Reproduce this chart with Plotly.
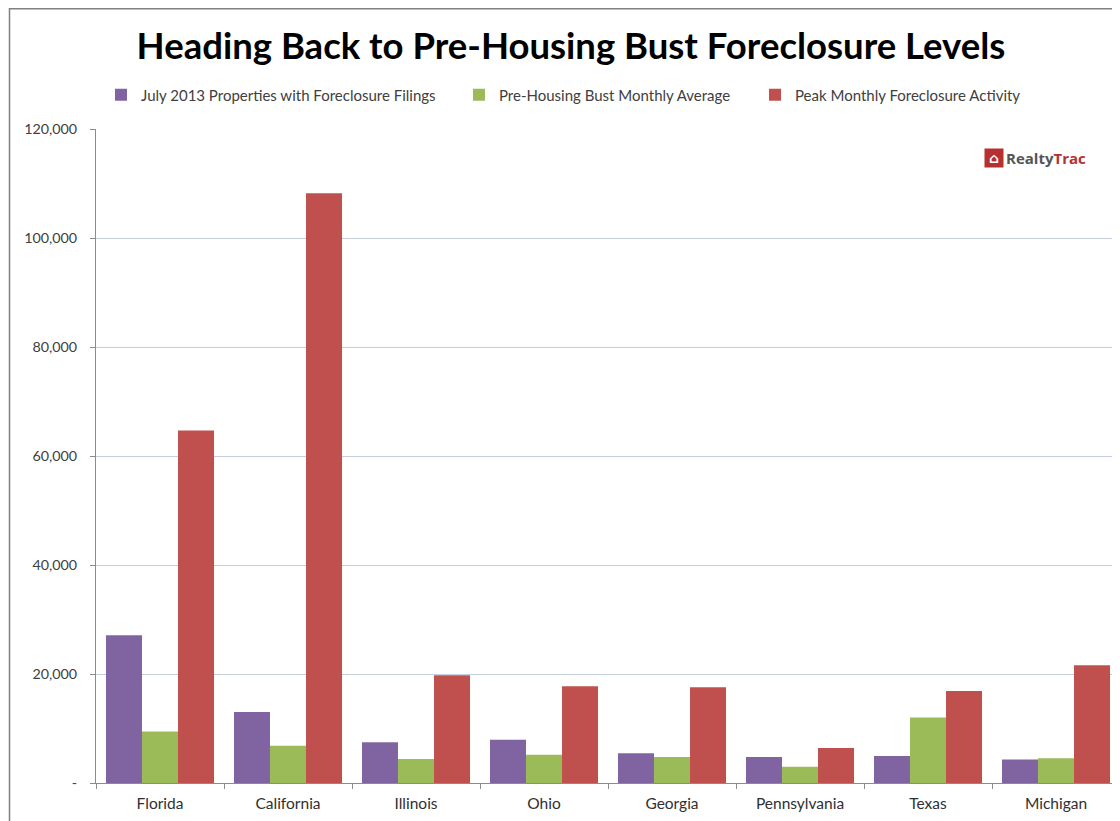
import plotly.graph_objects as go

states = ["Florida", "California", "Illinois", "Ohio", "Georgia", "Pennsylvania", "Texas", "Michigan"]
july_2013 = [27100, 13050, 7500, 7930, 5450, 4790, 4970, 4300]
pre_bust_avg = [9450, 6830, 4390, 5180, 4790, 2970, 12000, 4550]
peak_activity = [64700, 108200, 19760, 17760, 17580, 6420, 16900, 21600]

series_names = ["July 2013 Properties with Foreclosure Filings",
                "Pre-Housing Bust Monthly Average",
                "Peak Monthly Foreclosure Activity"]
series_colors = ["#8064A2", "#9BBB59", "#C0504D"]

y_tickvals = [0, 20000, 40000, 60000, 80000, 100000, 120000]
y_ticktext = ["-", "20,000", "40,000", "60,000", "80,000", "100,000", "120,000"]

# page has an 8px body margin; layout is expressed in screen pixels then converted
OFF = 8
W, H = 1120, 821
ML, MT = 96 - OFF, 129 - OFF
MR = W - (1120 - OFF)
MB = H - (783 - OFF)
PW, PH = W - ML - MR, H - MT - MB


def sx(px):
    return (px - OFF - ML) / PW


def sy(py):
    return 1 - (py - OFF - MT) / PH


font_family = "Lato, 'Open Sans', sans-serif"
legend_ids = ["legend2", "legend3", "legend4"]
legend_text_x = [141, 499, 795]

fig = go.Figure()
for name, vals, col, lid in zip(series_names, [july_2013, pre_bust_avg, peak_activity],
                                series_colors, legend_ids):
    fig.add_trace(go.Bar(x=states, y=vals, name=name, legend=lid,
                         marker=dict(color=col, line=dict(width=0))))

legend_common = dict(orientation="h", xanchor="left", yanchor="middle", y=sy(95),
                     font=dict(size=15, color="#404040", family=font_family),
                     bgcolor="rgba(0,0,0,0)", itemwidth=30)

fig.update_layout(
    width=W, height=H,
    margin=dict(l=ML, r=MR, t=MT, b=MB, pad=0),
    paper_bgcolor="white", plot_bgcolor="white",
    barmode="group", bargap=0.156, bargroupgap=0,
    font=dict(family=font_family, color="#404040", size=13),
    title=dict(text="<b>Heading Back to Pre-Housing Bust Foreclosure Levels</b>",
               x=(571 - OFF) / W, xanchor="center", y=1 - (46 - OFF) / H, yanchor="middle",
               font=dict(family=font_family, size=36.5, color="#000000")),
    legend2=dict(x=sx(legend_text_x[0] - 40), **legend_common),
    legend3=dict(x=sx(legend_text_x[1] - 40), **legend_common),
    legend4=dict(x=sx(legend_text_x[2] - 40), **legend_common),
    xaxis=dict(range=[-0.5, 7.5], showline=True, linecolor="#8C8C8C", linewidth=1,
               ticks="outside", tickson="boundaries", ticklen=5, tickcolor="#8C8C8C",
               showgrid=False, ticklabelstandoff=6,
               tickfont=dict(size=15.5, color="#303030")),
    yaxis=dict(range=[0, 120000], tickvals=y_tickvals, ticktext=y_ticktext,
               showline=True, linecolor="#8C8C8C", linewidth=1,
               ticks="outside", ticklen=5, tickcolor="#8C8C8C",
               showgrid=True, gridcolor="#C5CFDB", gridwidth=1,
               zeroline=False, ticklabelstandoff=10,
               tickfont=dict(size=14.3, color="#404040")),
)

# outer chart frame (cropped at right/bottom in reference)
fig.add_shape(type="path", xref="paper", yref="paper",
              path=f"M {sx(1130)},{sy(8.7)} L {sx(9.5)},{sy(8.7)} L {sx(9.5)},{sy(830)}",
              line=dict(color="#808080", width=1.5), layer="above")

# RealtyTrac logo
fig.add_annotation(xref="paper", yref="paper", x=sx(994), y=sy(158),
                   text="<b>⌂</b>", showarrow=False, bgcolor="#B5302E",
                   font=dict(size=14, color="white", family="DejaVu Sans"),
                   xanchor="center", yanchor="middle", borderpad=1, width=16, height=16)
fig.add_annotation(xref="paper", yref="paper", x=sx(1004), y=sy(158),
                   text="<b><span style='color:#555555'>Realty</span><span style='color:#B5302E'>Trac</span></b>",
                   showarrow=False, xanchor="left", yanchor="middle",
                   font=dict(size=15, family="'Open Sans', sans-serif"))

fig.write_html("out.html")
